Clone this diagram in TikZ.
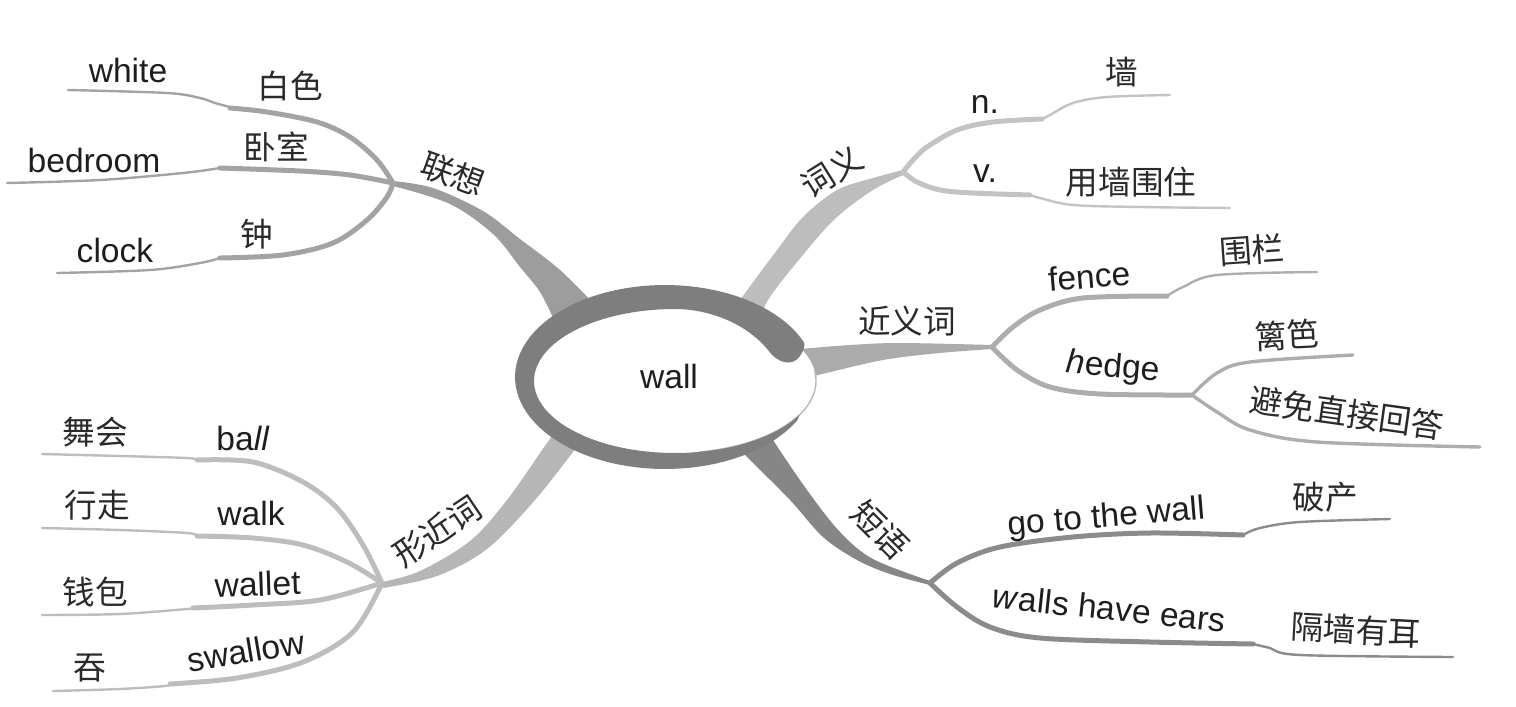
\documentclass[tikz,border=0pt]{standalone}
\usepackage{fontspec}
\setmainfont{Liberation Sans}
\newfontfamily\cjk{Noto Sans CJK SC}
\definecolor{ink}{HTML}{1E1E1E}
\definecolor{zink}{HTML}{2A2A2A}
\definecolor{ring}{HTML}{7E7E7E}
\definecolor{lxm}{HTML}{9D9D9D}\definecolor{lxs}{HTML}{A3A3A3}
\definecolor{cym}{HTML}{BDBDBD}\definecolor{cys}{HTML}{C3C3C3}
\definecolor{jym}{HTML}{ABABAB}\definecolor{jys}{HTML}{ADADAD}
\definecolor{xjm}{HTML}{B6B6B6}\definecolor{xjs}{HTML}{BDBDBD}
\definecolor{dym}{HTML}{868686}\definecolor{dys}{HTML}{8B8B8B}
\tikzset{
  en/.style={font=\fontsize{16.8}{20}\selectfont, text=ink, inner sep=0pt, anchor=base},
  zh/.style={font=\cjk\fontsize{16.3}{20}\selectfont, text=zink, inner sep=0pt},
  thk/.style={line width=2.5pt, line cap=round, line join=round},
  thn/.style={line width=1.2pt, line cap=round, line join=round},
  mid/.style={line width=1.7pt, line cap=round, line join=round},
  sm/.style={smooth, tension=0.55},
}
\begin{document}
\begin{tikzpicture}[x=0.5pt,y=-0.5pt]
\useasboundingbox (0,0) rectangle (1516,707);

% fork points
\coordinate (FL) at (393,183);
\coordinate (FC) at (903,172);
\coordinate (FJ) at (992,347);
\coordinate (FH) at (1192,395);
\coordinate (FX) at (382,583);
\coordinate (FD) at (930,583);

% ---------- main tapered branches ----------
\fill[lxm] plot[sm] coordinates {(393,181) (433,188) (483,211) (520,239) (560,270) (600,310)}
  -- plot[sm] coordinates {(555,322) (540,292) (520,267) (493,234) (450,204) (393,186)} -- cycle;
\fill[cym] plot[sm] coordinates {(903,170) (873,178) (837,190) (803,217) (777,250) (740,300) (722,325)}
  -- plot[sm] coordinates {(758,330) (768,300) (807,250) (837,217) (873,190) (903,175)} -- cycle;
\fill[jym] plot[sm] coordinates {(800,349) (850,345) (900,343) (992,345)}
  -- plot[sm] coordinates {(992,349) (940,353) (883,360) (818,375) (800,379)} -- cycle;
\fill[xjm] plot[sm] coordinates {(382,582) (420,571) (470,541) (507,500) (547,443) (565,418)}
  -- plot[sm] coordinates {(592,430) (580,443) (535,500) (487,549) (437,576) (383,588)} -- cycle;
\fill[dym] plot[sm] coordinates {(728,438) (747,457) (790,500) (823,537) (857,560) (890,574) (930,585)}
  -- plot[sm] coordinates {(930,581) (873,559) (840,532) (807,490) (773,440) (765,425)} -- cycle;

% ---------- centre ----------
\fill[white] plot[domain=0:360,samples=120,variable=\t] ({675+141*cos(\t)},{381-72*sin(\t)}) -- cycle;
\draw[line width=0.7pt, color=black!28] plot[domain=-80:8,samples=60,variable=\t] ({675+141*cos(\t)},{381-72*sin(\t)});
\fill[ring] plot[domain=22:332,samples=90,variable=\t] ({665+150*cos(\t)},{377-92*sin(\t)})
  -- plot[domain=332:90,samples=70,variable=\t] ({675+141*cos(\t)},{381-72*sin(\t)})
  .. controls (707,309) and (745,322) .. (768,350)
  .. controls (776,362) and (792,368) .. (800,356)
  .. controls (804,350) and (805,346) .. (804,342) -- cycle;
\node[en] (wall) at (669,388) {wall};

% ---------- 联想 ----------
\draw[thk,lxs] plot[sm] coordinates {(FL) (377,160) (350,137) (317,122) (267,112) (230,108)};
\draw[thn,lxs] plot[sm] coordinates {(230,107) (215,103) (200,98) (167,93) (68,90)};
\draw[thk,lxs] plot[sm] coordinates {(FL) (350,175) (300,171) (220,168)};
\draw[thn,lxs] plot[sm] coordinates {(220,168) (183,173) (100,180) (7,183)};
\draw[thk,lxs] plot[sm] coordinates {(FL) (387,197) (367,220) (333,243) (283,255) (220,258)};
\draw[thn,lxs] plot[sm] coordinates {(220,258) (200,263) (150,270) (57,273)};
\node[en] (white) at (128,82) {white};
\node[en] (bedroom) at (94,172) {bedroom};
\node[en] (clock) at (115,262) {clock};
\node[zh] (baise) at (290,86) {白色};
\node[zh] (woshi) at (276,147) {卧室};
\node[zh] (zhong) at (257,234) {钟};
\node[zh,rotate=-20] (lianxiang) at (453,174) {联想};

% ---------- 词义 ----------
\draw[thk,cys] plot[sm] coordinates {(FC) (913,160) (927,147) (957,130) (993,122) (1042,119)};
\draw[thn,cys] plot[sm] coordinates {(1042,119) (1050,115) (1073,103) (1107,97) (1170,95)};
\draw[thk,cys] plot[sm] coordinates {(FC) (917,182) (940,190) (973,193) (1030,195)};
\draw[thn,cys] plot[sm] coordinates {(1030,195) (1040,198) (1073,205) (1140,207) (1230,208)};
\node[zh,rotate=32] (ciyi) at (832,172) {词义};
\node[en] (n) at (985,113) {n.};
\node[en] (v) at (985,182) {v.};
\node[zh] (qiang) at (1122,72) {墙};
\node[zh] (yqwz) at (1131,182) {用墙围住};

% ---------- 近义词 ----------
\draw[thk,jys] plot[sm] coordinates {(FJ) (1013,327) (1040,310) (1083,298) (1167,296)};
\draw[thn,jys] plot[sm] coordinates {(1167,296) (1183,287) (1217,275) (1317,272)};
\draw[thk,jys] plot[sm] coordinates {(FJ) (1017,370) (1050,387) (1100,394) (FH)};
\draw[mid,jys] plot[sm] coordinates {(FH) (1217,373) (1250,362) (1353,355)};
\draw[mid,jys] plot[sm] coordinates {(FH) (1217,412) (1250,430) (1317,442) (1480,447)};
\node[zh] (jyc) at (907,321) {近义词};
\node[en,rotate=4.5] (fence) at (1090,288) {fence};
\node[en,rotate=-5] (hedge) at (1112,377) {\textit{h}edge};
\node[zh,rotate=4] (weilan) at (1252,250) {围栏};
\node[zh,rotate=3] (liba) at (1287,335) {篱笆};
\node[zh,rotate=-8] (bimian) at (1347,413) {避免直接回答};

% ---------- 形近词 ----------
\draw[thk,xjs] plot[sm] coordinates {(FX) (363,545) (337,508) (303,482) (253,462) (197,460)};
\draw[thn,xjs] plot[sm] coordinates {(197,460) (187,458) (120,456) (42,454)};
\draw[thk,xjs] plot[sm] coordinates {(FX) (347,562) (303,545) (253,538) (197,536)};
\draw[thn,xjs] plot[sm] coordinates {(197,536) (187,533) (120,530) (42,528)};
\draw[thk,xjs] plot[sm] coordinates {(FX) (320,600) (253,605) (193,608)};
\draw[thn,xjs] plot[sm] coordinates {(193,608) (187,609) (120,614) (42,615)};
\draw[thk,xjs] plot[sm] coordinates {(FX) (353,632) (303,662) (237,678) (170,684)};
\draw[thn,xjs] plot[sm] coordinates {(170,684) (165,686) (120,689) (53,691)};
\node[zh,rotate=34] (xjc) at (437,531) {形近词};
\node[en] (ball) at (243,450) {ba\textit{ll}};
\node[en] (walk) at (251,525) {walk};
\node[en,rotate=2] (wallet) at (258,596) {wallet};
\node[en,rotate=9.5] (swallow) at (248,663) {swallow};
\node[zh] (wuhui) at (95,432) {舞会};
\node[zh] (xingzou) at (97,505) {行走};
\node[zh] (qianbao) at (95,592) {钱包};
\node[zh] (tun) at (90,668) {吞};

% ---------- 短语 ----------
\draw[thk,dys] plot[sm] coordinates {(FD) (957,563) (1000,547) (1073,537) (1150,533) (1243,535)};
\draw[thn,dys] plot[sm] coordinates {(1243,535) (1260,528) (1300,522) (1390,519)};
\draw[thk,dys] plot[sm] coordinates {(FD) (957,607) (990,627) (1040,638) (1150,642) (1253,644)};
\draw[thn,dys] plot[sm] coordinates {(1253,644) (1270,648) (1300,655) (1453,657)};
\node[zh,rotate=-45] (duanyu) at (880,530) {短语};
\node[en,rotate=4.7] (gowall) at (1107,527) {go to the wall};
\node[en,rotate=-6] (walls) at (1108,620) {\textit{w}alls have ears};
\node[zh] (pochan) at (1325,497) {破产};
\node[zh,rotate=-3] (gqye) at (1356,630) {隔墙有耳};
\end{tikzpicture}
\end{document}
